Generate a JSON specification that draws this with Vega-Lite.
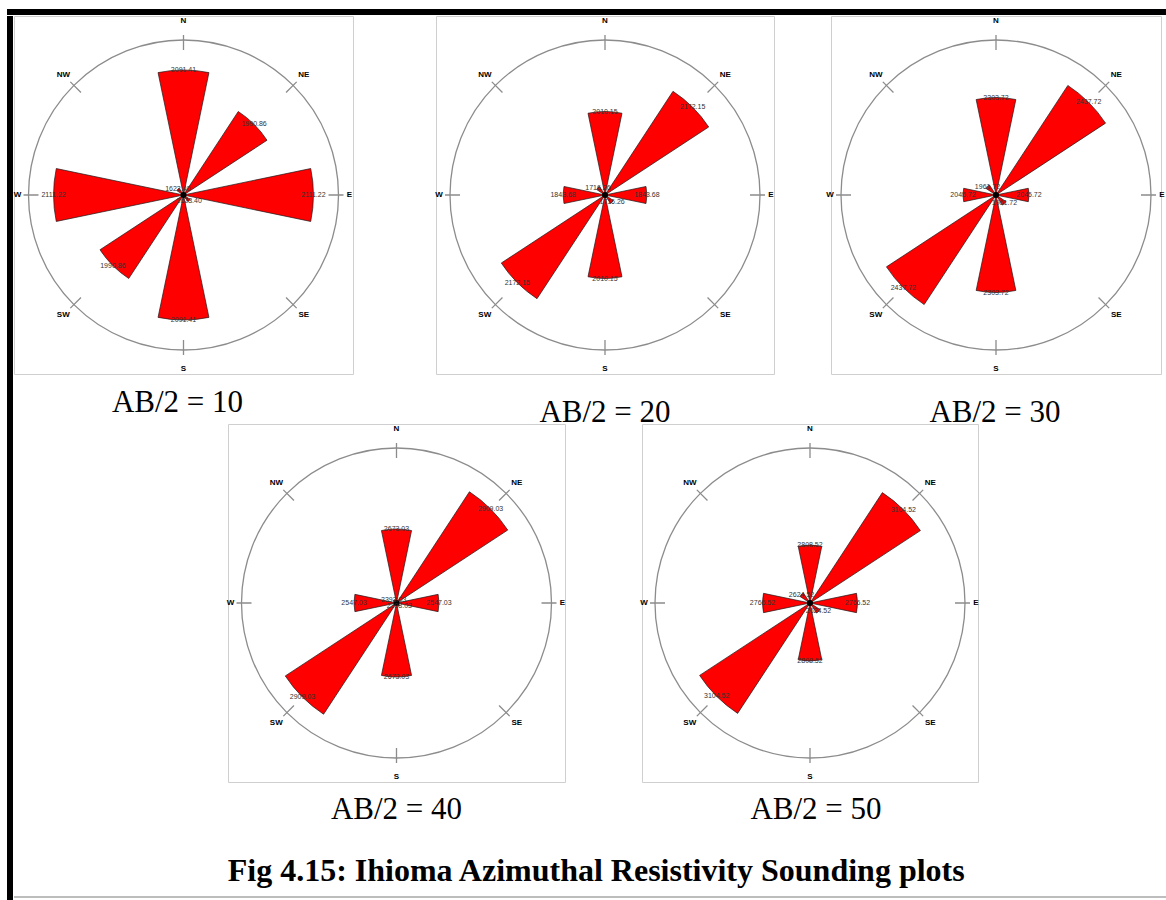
{
  "$schema": "https://vega.github.io/schema/vega-lite/v6.json",
  "background": "#ffffff",
  "padding": {"left": 7, "top": 9, "right": 0, "bottom": 0},
  "config": {
    "view": {"stroke": "#cfcfcf", "strokeWidth": 1},
    "font": "Liberation Sans",
    "title": {"orient": "bottom", "anchor": "middle", "font": "Liberation Serif", "fontSize": 31, "fontWeight": "normal", "color": "#000000"}
  },
  "datasets": {
    "rose": [
      {"ab": 10, "dir": "N", "az": 0, "rho": 2091.41},
      {"ab": 10, "dir": "NE", "az": 45, "rho": 1990.86},
      {"ab": 10, "dir": "E", "az": 90, "rho": 2111.22},
      {"ab": 10, "dir": "SE", "az": 135, "rho": 1623.4},
      {"ab": 10, "dir": "S", "az": 180, "rho": 2091.41},
      {"ab": 10, "dir": "SW", "az": 225, "rho": 1990.86},
      {"ab": 10, "dir": "W", "az": 270, "rho": 2111.22},
      {"ab": 10, "dir": "NW", "az": 315, "rho": 1623.4},
      {"ab": 20, "dir": "N", "az": 0, "rho": 2010.15},
      {"ab": 20, "dir": "NE", "az": 45, "rho": 2172.15},
      {"ab": 20, "dir": "E", "az": 90, "rho": 1843.68},
      {"ab": 20, "dir": "SE", "az": 135, "rho": 1716.26},
      {"ab": 20, "dir": "S", "az": 180, "rho": 2010.15},
      {"ab": 20, "dir": "SW", "az": 225, "rho": 2172.15},
      {"ab": 20, "dir": "W", "az": 270, "rho": 1843.68},
      {"ab": 20, "dir": "NW", "az": 315, "rho": 1716.26},
      {"ab": 30, "dir": "N", "az": 0, "rho": 2303.72},
      {"ab": 30, "dir": "NE", "az": 45, "rho": 2437.72},
      {"ab": 30, "dir": "E", "az": 90, "rho": 2045.72},
      {"ab": 30, "dir": "SE", "az": 135, "rho": 1961.72},
      {"ab": 30, "dir": "S", "az": 180, "rho": 2303.72},
      {"ab": 30, "dir": "SW", "az": 225, "rho": 2437.72},
      {"ab": 30, "dir": "W", "az": 270, "rho": 2045.72},
      {"ab": 30, "dir": "NW", "az": 315, "rho": 1961.72},
      {"ab": 40, "dir": "N", "az": 0, "rho": 2673.03},
      {"ab": 40, "dir": "NE", "az": 45, "rho": 2909.03},
      {"ab": 40, "dir": "E", "az": 90, "rho": 2547.03},
      {"ab": 40, "dir": "SE", "az": 135, "rho": 2393.03},
      {"ab": 40, "dir": "S", "az": 180, "rho": 2673.03},
      {"ab": 40, "dir": "SW", "az": 225, "rho": 2909.03},
      {"ab": 40, "dir": "W", "az": 270, "rho": 2547.03},
      {"ab": 40, "dir": "NW", "az": 315, "rho": 2393.03},
      {"ab": 50, "dir": "N", "az": 0, "rho": 2808.52},
      {"ab": 50, "dir": "NE", "az": 45, "rho": 3104.52},
      {"ab": 50, "dir": "E", "az": 90, "rho": 2766.52},
      {"ab": 50, "dir": "SE", "az": 135, "rho": 2624.52},
      {"ab": 50, "dir": "S", "az": 180, "rho": 2808.52},
      {"ab": 50, "dir": "SW", "az": 225, "rho": 3104.52},
      {"ab": 50, "dir": "W", "az": 270, "rho": 2766.52},
      {"ab": 50, "dir": "NW", "az": 315, "rho": 2624.52}
    ]
  },
  "spacing": 0,
  "vconcat": [
    {"width": 1159, "height": 6, "view": {"fill": "#000000", "stroke": null}, "data": {"values": []}, "mark": {"type": "point", "opacity": 0}},
    {
      "hconcat": [
        {"width": 6, "height": 885, "view": {"fill": "#000000", "stroke": null}, "data": {"values": []}, "mark": {"type": "point", "opacity": 0}},
        {
          "spacing": 9,
          "vconcat": [
            {
              "spacing": 408,
              "bounds": "flush",
              "resolve": {"scale": {"theta": "independent", "radius": "independent"}},
              "title": {"text": "Fig 4.15: Ihioma Azimuthal Resistivity Sounding plots", "orient": "bottom", "anchor": "middle", "offset": 30, "dx": 7, "font": "Liberation Serif", "fontSize": 32, "fontWeight": "bold", "color": "#000000"},
              "vconcat": [
                {
                  "spacing": 0,
                  "bounds": "flush",
                  "resolve": {"scale": {"theta": "independent", "radius": "independent"}},
                  "hconcat": [
                    {
                      "width": 339, "height": 358,
                      "view": {"stroke": "#cfcfcf"},
                      "title": {"text": "AB/2 = 10", "orient": "bottom", "offset": 14, "dx": -6},
                      "data": {"name": "rose"},
                      "transform": [{"filter": "datum.ab == 10"}],
                      "layer": [
                        {"data": {"values": [{"ring": 1}]}, "mark": {"type": "arc", "filled": false, "stroke": "#8c8c8c", "strokeWidth": 1.3},
                         "encoding": {"theta": {"datum": 0, "type": "quantitative", "scale": {"domain": [0, 360], "range": [0, 6.283185307179586]}}, "theta2": {"datum": 360},
                                      "radius": {"datum": 2211.41, "type": "quantitative", "scale": {"type": "linear", "zero": false, "nice": false, "domain": [1591.41, 2211.41], "range": [0, 155]}}}},
                        {"mark": {"type": "arc", "filled": false, "stroke": "#8c8c8c", "strokeWidth": 1.3},
                         "encoding": {"theta": {"field": "az", "type": "quantitative", "stack": null}, "theta2": {"field": "az"},
                                      "radius": {"datum": 2171.41, "type": "quantitative"}, "radius2": {"datum": 2231.41}}},
                        {"mark": {"type": "arc", "fill": "#ff0000", "stroke": "#1a1a1a", "strokeWidth": 0.7, "thetaOffset": -0.205, "theta2Offset": 0.205},
                         "encoding": {"theta": {"field": "az", "type": "quantitative", "stack": null}, "theta2": {"field": "az"},
                                      "radius": {"field": "rho", "type": "quantitative"}}},
                        {"data": {"values": [{"hub": 1}]}, "mark": {"type": "arc", "fill": "#000000"},
                         "encoding": {"theta": {"datum": 0, "type": "quantitative"}, "theta2": {"datum": 360}, "radius": {"datum": 1603.41, "type": "quantitative"}}},
                        {"mark": {"type": "text", "fontSize": 7, "color": "#333333", "align": "center", "baseline": "middle"},
                         "encoding": {"theta": {"field": "az", "type": "quantitative", "stack": null}, "radius": {"field": "rho", "type": "quantitative"}, "text": {"field": "rho", "type": "quantitative", "format": ".2f"}}},
                        {"transform": [{"filter": "datum.az % 180 == 0"}],
                         "mark": {"type": "text", "fontSize": 8, "fontWeight": "bold", "color": "#000000", "align": "center", "baseline": "middle"},
                         "encoding": {"theta": {"field": "az", "type": "quantitative", "stack": null}, "radius": {"datum": 2287.41, "type": "quantitative"}, "text": {"field": "dir", "type": "nominal"}}},
                        {"transform": [{"filter": "datum.az % 180 == 90"}],
                         "mark": {"type": "text", "fontSize": 8, "fontWeight": "bold", "color": "#000000", "align": "center", "baseline": "middle"},
                         "encoding": {"theta": {"field": "az", "type": "quantitative", "stack": null}, "radius": {"datum": 2255.41, "type": "quantitative"}, "text": {"field": "dir", "type": "nominal"}}},
                        {"transform": [{"filter": "datum.az % 90 == 45"}],
                         "mark": {"type": "text", "fontSize": 8, "fontWeight": "bold", "color": "#000000", "align": "center", "baseline": "middle"},
                         "encoding": {"theta": {"field": "az", "type": "quantitative", "stack": null}, "radius": {"datum": 2271.41, "type": "quantitative"}, "text": {"field": "dir", "type": "nominal"}}}
                      ]
                    },
                    {"width": 83, "height": 1, "view": {"stroke": null}, "data": {"values": []}, "mark": {"type": "point", "opacity": 0}},
                    {
                      "width": 338, "height": 358,
                      "view": {"stroke": "#cfcfcf"},
                      "title": {"text": "AB/2 = 20", "orient": "bottom", "offset": 24, "dx": 0},
                      "data": {"name": "rose"},
                      "transform": [{"filter": "datum.ab == 20"}],
                      "layer": [
                        {"data": {"values": [{"ring": 1}]}, "mark": {"type": "arc", "filled": false, "stroke": "#8c8c8c", "strokeWidth": 1.3},
                         "encoding": {"theta": {"datum": 0, "type": "quantitative", "scale": {"domain": [0, 360], "range": [0, 6.283185307179586]}}, "theta2": {"datum": 360},
                                      "radius": {"datum": 2296.15, "type": "quantitative", "scale": {"type": "linear", "zero": false, "nice": false, "domain": [1676.15, 2296.15], "range": [0, 155]}}}},
                        {"mark": {"type": "arc", "filled": false, "stroke": "#8c8c8c", "strokeWidth": 1.3},
                         "encoding": {"theta": {"field": "az", "type": "quantitative", "stack": null}, "theta2": {"field": "az"},
                                      "radius": {"datum": 2256.15, "type": "quantitative"}, "radius2": {"datum": 2316.15}}},
                        {"mark": {"type": "arc", "fill": "#ff0000", "stroke": "#1a1a1a", "strokeWidth": 0.7, "thetaOffset": -0.205, "theta2Offset": 0.205},
                         "encoding": {"theta": {"field": "az", "type": "quantitative", "stack": null}, "theta2": {"field": "az"},
                                      "radius": {"field": "rho", "type": "quantitative"}}},
                        {"data": {"values": [{"hub": 1}]}, "mark": {"type": "arc", "fill": "#000000"},
                         "encoding": {"theta": {"datum": 0, "type": "quantitative"}, "theta2": {"datum": 360}, "radius": {"datum": 1688.15, "type": "quantitative"}}},
                        {"mark": {"type": "text", "fontSize": 7, "color": "#333333", "align": "center", "baseline": "middle"},
                         "encoding": {"theta": {"field": "az", "type": "quantitative", "stack": null}, "radius": {"field": "rho", "type": "quantitative"}, "text": {"field": "rho", "type": "quantitative", "format": ".2f"}}},
                        {"transform": [{"filter": "datum.az % 180 == 0"}],
                         "mark": {"type": "text", "fontSize": 8, "fontWeight": "bold", "color": "#000000", "align": "center", "baseline": "middle"},
                         "encoding": {"theta": {"field": "az", "type": "quantitative", "stack": null}, "radius": {"datum": 2372.15, "type": "quantitative"}, "text": {"field": "dir", "type": "nominal"}}},
                        {"transform": [{"filter": "datum.az % 180 == 90"}],
                         "mark": {"type": "text", "fontSize": 8, "fontWeight": "bold", "color": "#000000", "align": "center", "baseline": "middle"},
                         "encoding": {"theta": {"field": "az", "type": "quantitative", "stack": null}, "radius": {"datum": 2340.15, "type": "quantitative"}, "text": {"field": "dir", "type": "nominal"}}},
                        {"transform": [{"filter": "datum.az % 90 == 45"}],
                         "mark": {"type": "text", "fontSize": 8, "fontWeight": "bold", "color": "#000000", "align": "center", "baseline": "middle"},
                         "encoding": {"theta": {"field": "az", "type": "quantitative", "stack": null}, "radius": {"datum": 2356.15, "type": "quantitative"}, "text": {"field": "dir", "type": "nominal"}}}
                      ]
                    },
                    {"width": 57, "height": 1, "view": {"stroke": null}, "data": {"values": []}, "mark": {"type": "point", "opacity": 0}},
                    {
                      "width": 330, "height": 358,
                      "view": {"stroke": "#cfcfcf"},
                      "title": {"text": "AB/2 = 30", "orient": "bottom", "offset": 24, "dx": -1},
                      "data": {"name": "rose"},
                      "transform": [{"filter": "datum.ab == 30"}],
                      "layer": [
                        {"data": {"values": [{"ring": 1}]}, "mark": {"type": "arc", "filled": false, "stroke": "#8c8c8c", "strokeWidth": 1.3},
                         "encoding": {"theta": {"datum": 0, "type": "quantitative", "scale": {"domain": [0, 360], "range": [0, 6.283185307179586]}}, "theta2": {"datum": 360},
                                      "radius": {"datum": 2533.72, "type": "quantitative", "scale": {"type": "linear", "zero": false, "nice": false, "domain": [1913.72, 2533.72], "range": [0, 155]}}}},
                        {"mark": {"type": "arc", "filled": false, "stroke": "#8c8c8c", "strokeWidth": 1.3},
                         "encoding": {"theta": {"field": "az", "type": "quantitative", "stack": null}, "theta2": {"field": "az"},
                                      "radius": {"datum": 2493.72, "type": "quantitative"}, "radius2": {"datum": 2553.72}}},
                        {"mark": {"type": "arc", "fill": "#ff0000", "stroke": "#1a1a1a", "strokeWidth": 0.7, "thetaOffset": -0.205, "theta2Offset": 0.205},
                         "encoding": {"theta": {"field": "az", "type": "quantitative", "stack": null}, "theta2": {"field": "az"},
                                      "radius": {"field": "rho", "type": "quantitative"}}},
                        {"data": {"values": [{"hub": 1}]}, "mark": {"type": "arc", "fill": "#000000"},
                         "encoding": {"theta": {"datum": 0, "type": "quantitative"}, "theta2": {"datum": 360}, "radius": {"datum": 1925.72, "type": "quantitative"}}},
                        {"mark": {"type": "text", "fontSize": 7, "color": "#333333", "align": "center", "baseline": "middle"},
                         "encoding": {"theta": {"field": "az", "type": "quantitative", "stack": null}, "radius": {"field": "rho", "type": "quantitative"}, "text": {"field": "rho", "type": "quantitative", "format": ".2f"}}},
                        {"transform": [{"filter": "datum.az % 180 == 0"}],
                         "mark": {"type": "text", "fontSize": 8, "fontWeight": "bold", "color": "#000000", "align": "center", "baseline": "middle"},
                         "encoding": {"theta": {"field": "az", "type": "quantitative", "stack": null}, "radius": {"datum": 2609.72, "type": "quantitative"}, "text": {"field": "dir", "type": "nominal"}}},
                        {"transform": [{"filter": "datum.az % 180 == 90"}],
                         "mark": {"type": "text", "fontSize": 8, "fontWeight": "bold", "color": "#000000", "align": "center", "baseline": "middle"},
                         "encoding": {"theta": {"field": "az", "type": "quantitative", "stack": null}, "radius": {"datum": 2577.72, "type": "quantitative"}, "text": {"field": "dir", "type": "nominal"}}},
                        {"transform": [{"filter": "datum.az % 90 == 45"}],
                         "mark": {"type": "text", "fontSize": 8, "fontWeight": "bold", "color": "#000000", "align": "center", "baseline": "middle"},
                         "encoding": {"theta": {"field": "az", "type": "quantitative", "stack": null}, "radius": {"datum": 2593.72, "type": "quantitative"}, "text": {"field": "dir", "type": "nominal"}}}
                      ]
                    }
                  ]
                },
                {
                  "spacing": 0,
                  "bounds": "flush",
                  "resolve": {"scale": {"theta": "independent", "radius": "independent"}},
                  "hconcat": [
                    {"width": 214, "height": 1, "view": {"stroke": null}, "data": {"values": []}, "mark": {"type": "point", "opacity": 0}},
                    {
                      "width": 337, "height": 358,
                      "view": {"stroke": "#cfcfcf"},
                      "title": {"text": "AB/2 = 40", "orient": "bottom", "offset": 13, "dx": 0},
                      "data": {"name": "rose"},
                      "transform": [{"filter": "datum.ab == 40"}],
                      "layer": [
                        {"data": {"values": [{"ring": 1}]}, "mark": {"type": "arc", "filled": false, "stroke": "#8c8c8c", "strokeWidth": 1.3},
                         "encoding": {"theta": {"datum": 0, "type": "quantitative", "scale": {"domain": [0, 360], "range": [0, 6.283185307179586]}}, "theta2": {"datum": 360},
                                      "radius": {"datum": 2997.03, "type": "quantitative", "scale": {"type": "linear", "zero": false, "nice": false, "domain": [2377.03, 2997.03], "range": [0, 155]}}}},
                        {"mark": {"type": "arc", "filled": false, "stroke": "#8c8c8c", "strokeWidth": 1.3},
                         "encoding": {"theta": {"field": "az", "type": "quantitative", "stack": null}, "theta2": {"field": "az"},
                                      "radius": {"datum": 2957.03, "type": "quantitative"}, "radius2": {"datum": 3017.03}}},
                        {"mark": {"type": "arc", "fill": "#ff0000", "stroke": "#1a1a1a", "strokeWidth": 0.7, "thetaOffset": -0.205, "theta2Offset": 0.205},
                         "encoding": {"theta": {"field": "az", "type": "quantitative", "stack": null}, "theta2": {"field": "az"},
                                      "radius": {"field": "rho", "type": "quantitative"}}},
                        {"data": {"values": [{"hub": 1}]}, "mark": {"type": "arc", "fill": "#000000"},
                         "encoding": {"theta": {"datum": 0, "type": "quantitative"}, "theta2": {"datum": 360}, "radius": {"datum": 2389.03, "type": "quantitative"}}},
                        {"mark": {"type": "text", "fontSize": 7, "color": "#333333", "align": "center", "baseline": "middle"},
                         "encoding": {"theta": {"field": "az", "type": "quantitative", "stack": null}, "radius": {"field": "rho", "type": "quantitative"}, "text": {"field": "rho", "type": "quantitative", "format": ".2f"}}},
                        {"transform": [{"filter": "datum.az % 180 == 0"}],
                         "mark": {"type": "text", "fontSize": 8, "fontWeight": "bold", "color": "#000000", "align": "center", "baseline": "middle"},
                         "encoding": {"theta": {"field": "az", "type": "quantitative", "stack": null}, "radius": {"datum": 3073.03, "type": "quantitative"}, "text": {"field": "dir", "type": "nominal"}}},
                        {"transform": [{"filter": "datum.az % 180 == 90"}],
                         "mark": {"type": "text", "fontSize": 8, "fontWeight": "bold", "color": "#000000", "align": "center", "baseline": "middle"},
                         "encoding": {"theta": {"field": "az", "type": "quantitative", "stack": null}, "radius": {"datum": 3041.03, "type": "quantitative"}, "text": {"field": "dir", "type": "nominal"}}},
                        {"transform": [{"filter": "datum.az % 90 == 45"}],
                         "mark": {"type": "text", "fontSize": 8, "fontWeight": "bold", "color": "#000000", "align": "center", "baseline": "middle"},
                         "encoding": {"theta": {"field": "az", "type": "quantitative", "stack": null}, "radius": {"datum": 3057.03, "type": "quantitative"}, "text": {"field": "dir", "type": "nominal"}}}
                      ]
                    },
                    {"width": 77, "height": 1, "view": {"stroke": null}, "data": {"values": []}, "mark": {"type": "point", "opacity": 0}},
                    {
                      "width": 336, "height": 358,
                      "view": {"stroke": "#cfcfcf"},
                      "title": {"text": "AB/2 = 50", "orient": "bottom", "offset": 13, "dx": 6},
                      "data": {"name": "rose"},
                      "transform": [{"filter": "datum.ab == 50"}],
                      "layer": [
                        {"data": {"values": [{"ring": 1}]}, "mark": {"type": "arc", "filled": false, "stroke": "#8c8c8c", "strokeWidth": 1.3},
                         "encoding": {"theta": {"datum": 0, "type": "quantitative", "scale": {"domain": [0, 360], "range": [0, 6.283185307179586]}}, "theta2": {"datum": 360},
                                      "radius": {"datum": 3196.52, "type": "quantitative", "scale": {"type": "linear", "zero": false, "nice": false, "domain": [2576.52, 3196.52], "range": [0, 155]}}}},
                        {"mark": {"type": "arc", "filled": false, "stroke": "#8c8c8c", "strokeWidth": 1.3},
                         "encoding": {"theta": {"field": "az", "type": "quantitative", "stack": null}, "theta2": {"field": "az"},
                                      "radius": {"datum": 3156.52, "type": "quantitative"}, "radius2": {"datum": 3216.52}}},
                        {"mark": {"type": "arc", "fill": "#ff0000", "stroke": "#1a1a1a", "strokeWidth": 0.7, "thetaOffset": -0.205, "theta2Offset": 0.205},
                         "encoding": {"theta": {"field": "az", "type": "quantitative", "stack": null}, "theta2": {"field": "az"},
                                      "radius": {"field": "rho", "type": "quantitative"}}},
                        {"data": {"values": [{"hub": 1}]}, "mark": {"type": "arc", "fill": "#000000"},
                         "encoding": {"theta": {"datum": 0, "type": "quantitative"}, "theta2": {"datum": 360}, "radius": {"datum": 2588.52, "type": "quantitative"}}},
                        {"mark": {"type": "text", "fontSize": 7, "color": "#333333", "align": "center", "baseline": "middle"},
                         "encoding": {"theta": {"field": "az", "type": "quantitative", "stack": null}, "radius": {"field": "rho", "type": "quantitative"}, "text": {"field": "rho", "type": "quantitative", "format": ".2f"}}},
                        {"transform": [{"filter": "datum.az % 180 == 0"}],
                         "mark": {"type": "text", "fontSize": 8, "fontWeight": "bold", "color": "#000000", "align": "center", "baseline": "middle"},
                         "encoding": {"theta": {"field": "az", "type": "quantitative", "stack": null}, "radius": {"datum": 3272.52, "type": "quantitative"}, "text": {"field": "dir", "type": "nominal"}}},
                        {"transform": [{"filter": "datum.az % 180 == 90"}],
                         "mark": {"type": "text", "fontSize": 8, "fontWeight": "bold", "color": "#000000", "align": "center", "baseline": "middle"},
                         "encoding": {"theta": {"field": "az", "type": "quantitative", "stack": null}, "radius": {"datum": 3240.52, "type": "quantitative"}, "text": {"field": "dir", "type": "nominal"}}},
                        {"transform": [{"filter": "datum.az % 90 == 45"}],
                         "mark": {"type": "text", "fontSize": 8, "fontWeight": "bold", "color": "#000000", "align": "center", "baseline": "middle"},
                         "encoding": {"theta": {"field": "az", "type": "quantitative", "stack": null}, "radius": {"datum": 3256.52, "type": "quantitative"}, "text": {"field": "dir", "type": "nominal"}}}
                      ]
                    }
                  ]
                }
              ]
            },
            {"width": 1153, "height": 2, "view": {"fill": "#bdbdbd", "stroke": null}, "data": {"values": []}, "mark": {"type": "point", "opacity": 0}}
          ]
        }
      ],
      "spacing": 0
    }
  ]
}
